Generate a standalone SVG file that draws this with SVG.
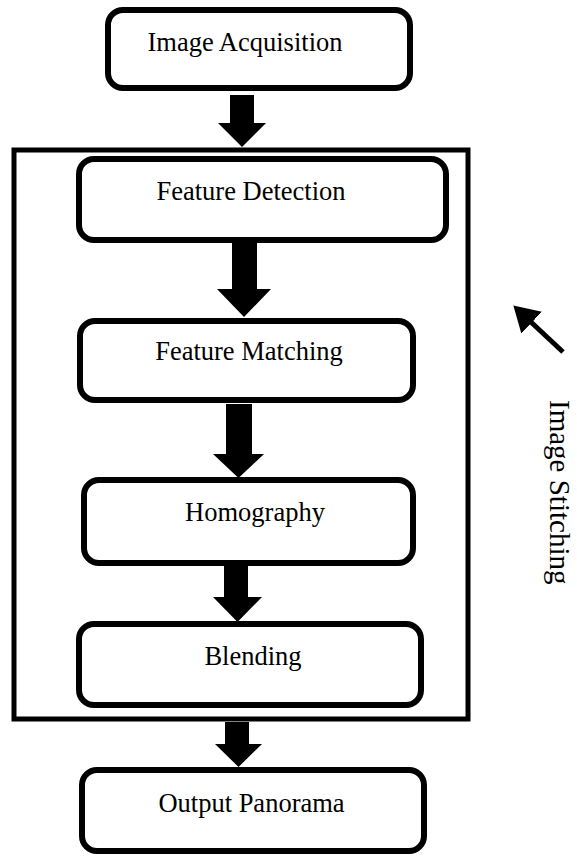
<svg xmlns="http://www.w3.org/2000/svg" width="577" height="856" viewBox="0 0 577 856">
<style>
.box{fill:#fff;stroke:#000;stroke-width:6}
.frame{fill:none;stroke:#000;stroke-width:5}
.lbl{font-family:"Liberation Serif","Times New Roman",serif;font-size:26.5px;fill:#000;text-anchor:middle}
.arr{fill:#000;stroke:none}
</style>
<defs>
<marker id="ah" markerWidth="6" markerHeight="6" refX="4" refY="3" orient="auto" markerUnits="strokeWidth">
<path d="M0,0 L5,3 L0,6 z" fill="#000"/>
</marker>
</defs>
<rect id="frame" class="frame" x="14" y="150" width="454" height="569"/>
<g id="connectors">
<path class="arr" d="M230,95 H254 V123 H266 L242,147 L218,123 H230 Z"/>
<path class="arr" d="M232,242 H257 V289 H271 L244,317 L217,289 H232 Z"/>
<path class="arr" d="M226,404 H252 V454 H264 L238.5,478 L213,454 H226 Z"/>
<path class="arr" d="M224,566 H248 V597 H262 L237.5,622 L213,597 H224 Z"/>
<path class="arr" d="M225,722 H249 V744 H262 L238.5,767 L215,744 H225 Z"/>
<line x1="563" y1="352" x2="517" y2="309" stroke="#000" stroke-width="5" marker-end="url(#ah)"/>
</g>
<g id="image-acquisition">
<rect class="box" x="108" y="10" width="302" height="78" rx="15"/>
<text class="lbl" x="245" y="51">Image Acquisition</text>
</g>
<g id="feature-detection">
<rect class="box" x="79" y="159" width="367" height="81" rx="15"/>
<text class="lbl" x="251" y="200">Feature Detection</text>
</g>
<g id="feature-matching">
<rect class="box" x="80" y="321" width="333" height="79" rx="15"/>
<text class="lbl" x="249" y="360">Feature Matching</text>
</g>
<g id="homography">
<rect class="box" x="84" y="480" width="329" height="83" rx="15"/>
<text class="lbl" x="255" y="521">Homography</text>
</g>
<g id="blending">
<rect class="box" x="79" y="624" width="342" height="81" rx="15"/>
<text class="lbl" x="253" y="665">Blending</text>
</g>
<g id="output-panorama">
<rect class="box" x="82" y="770" width="342" height="81" rx="15"/>
<text class="lbl" x="251.5" y="812">Output Panorama</text>
</g>
<g id="image-stitching">
<text class="lbl" style="text-anchor:start;font-size:29px" transform="translate(550,400) rotate(90)">Image Stitching</text>
</g>
</svg>
